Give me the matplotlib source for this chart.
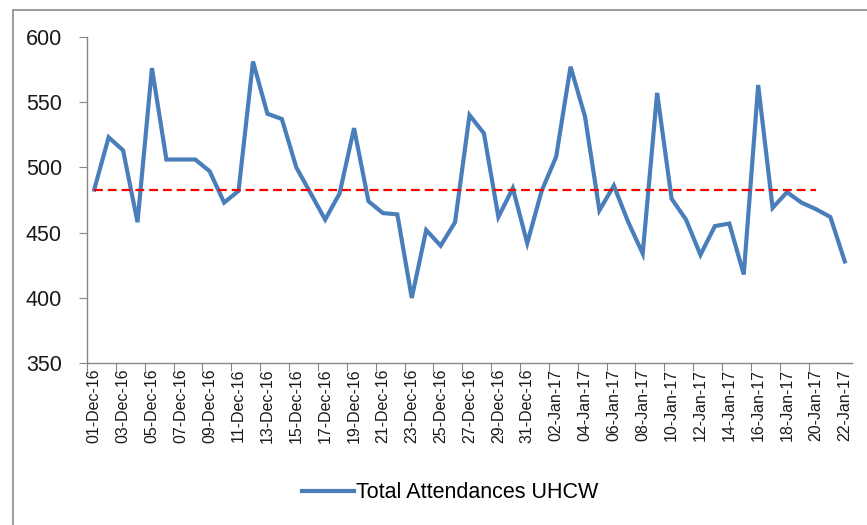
import matplotlib
matplotlib.use('Agg')
import matplotlib.pyplot as plt
from matplotlib.patches import Rectangle
import pandas as pd

plt.rcParams['font.family'] = ['Liberation Sans', 'DejaVu Sans']

# daily attendances, 01 Dec 2016 - 22 Jan 2017
dates = pd.date_range('2016-12-01', '2017-01-22', freq='D')
attendances = [483, 523, 513, 458, 576, 506, 506, 506, 497, 473,
               482, 581, 541, 537, 500, 480, 460, 480, 530, 474,
               465, 464, 400, 452, 440, 458, 540, 526, 462, 484,
               442, 482, 508, 577, 539, 467, 486, 458, 434, 557,
               476, 460, 433, 455, 457, 418, 563, 469, 481, 473,
               468, 462, 428]

# mean line (drawn up to 20 Jan in the source)
mean_value = 483
mean_end = '2017-01-20'

labels = [d.strftime('%d-%b-%y') for d in dates]
x = list(range(len(dates)))
n_mean = list(dates).index(pd.Timestamp(mean_end)) + 1

fig = plt.figure(figsize=(8.67, 5.25), dpi=100)
ax = fig.add_axes([87 / 867, 1 - 363.3 / 525, (852 - 87) / 867, (363.3 - 36.7) / 525])

ax.plot(x, attendances, color='#4A7EBB', lw=3.0, solid_joinstyle='miter',
        label='Total Attendances UHCW', zorder=3)
ax.plot(x[:n_mean], [mean_value] * n_mean, color='#FF0000', lw=1.6,
        dashes=(4, 2.2), zorder=4)

ax.set_xlim(-0.5, len(x) - 0.5)
ax.set_ylim(350, 600)
ax.set_yticks(range(350, 601, 50))

# tick marks between categories, labels on every second day
ax.set_xticks([i - 0.5 for i in range(0, len(x) - 1, 2)])
ax.set_xticklabels([])
ax.set_xticks(x[::2], minor=True)
ax.set_xticklabels(labels[::2], minor=True, rotation=90, fontsize=11.5, color='#1a1a1a')
ax.tick_params(axis='x', which='major', length=6, color='#868686', direction='out')
ax.tick_params(axis='x', which='minor', length=0, pad=4)
ax.tick_params(axis='y', length=6, color='#868686', labelsize=15.5, labelcolor='#1a1a1a', pad=12)

for s in ['top', 'right']:
    ax.spines[s].set_visible(False)
for s in ['left', 'bottom']:
    ax.spines[s].set_color('#868686')
    ax.spines[s].set_linewidth(1.0)

fig.legend(handles=[ax.lines[0]], loc='center', bbox_to_anchor=(450 / 867, 1 - 493 / 525),
           frameon=False, fontsize=15.5, handlelength=2.4, handletextpad=0.1)

# chart-area border (runs off the right and bottom of the crop)
fig.patches.append(Rectangle((13 / 867, -0.1), 1.2, 1 - 10 / 525 + 0.1,
                             transform=fig.transFigure, fill=False,
                             edgecolor='#8C8C8C', lw=1.2))

fig.savefig('out.png', dpi=100)
